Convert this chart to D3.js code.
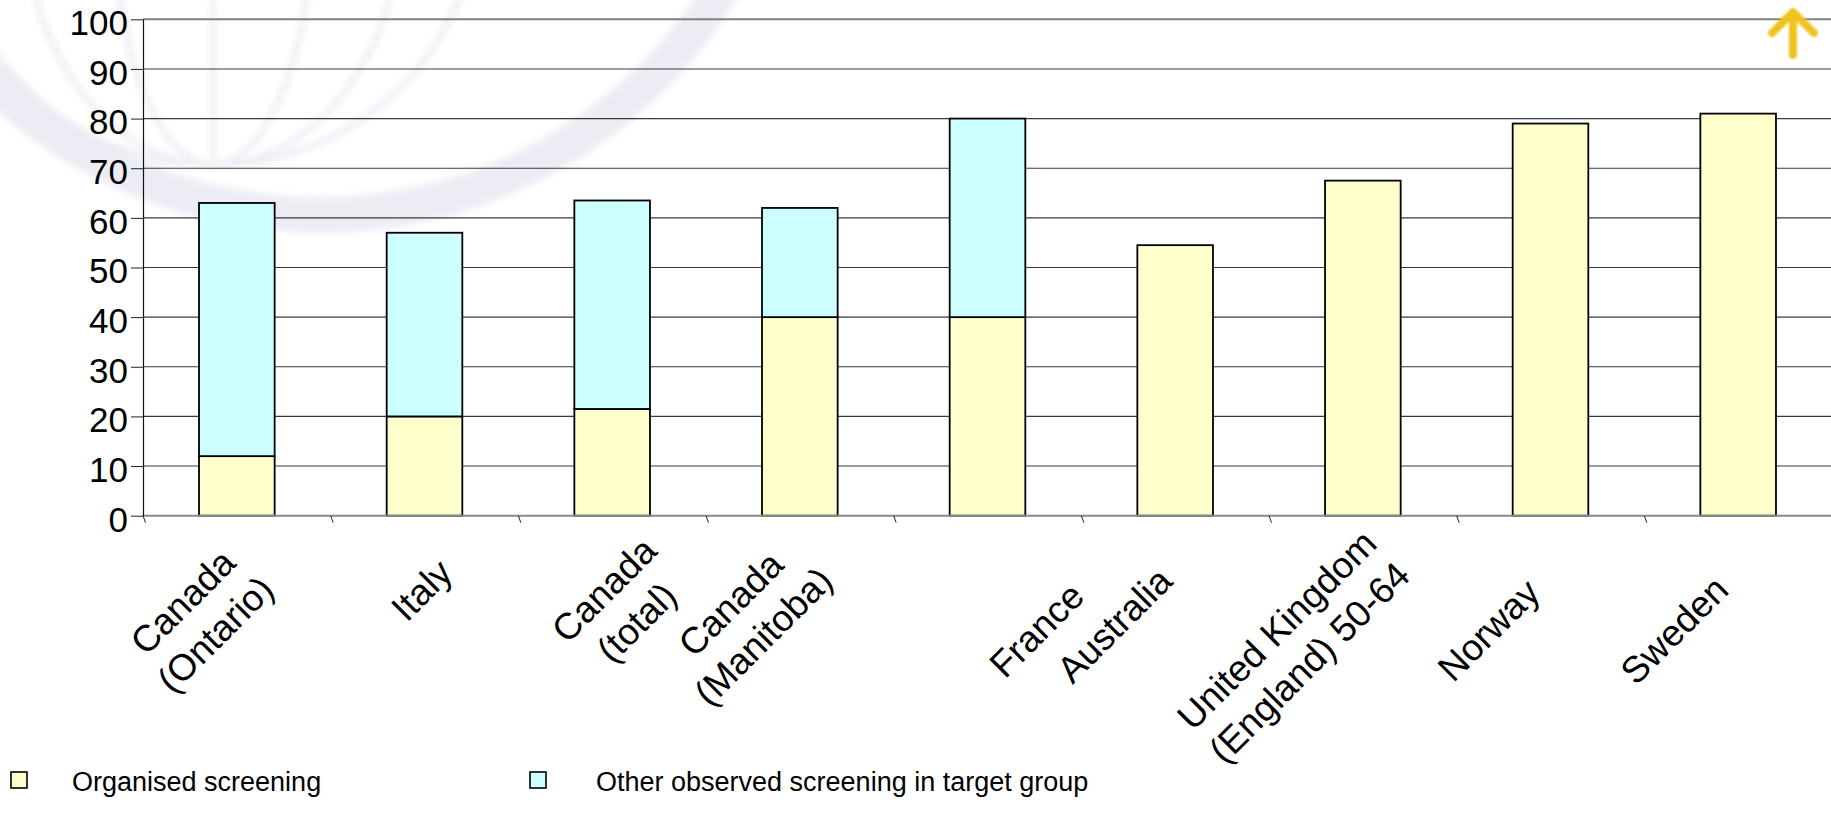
<!DOCTYPE html>
<html>
<head>
<meta charset="utf-8">
<script src="https://cdn.jsdelivr.net/npm/d3@7"></script>
<style>
  html, body { margin: 0; padding: 0; background: #fff; overflow: hidden; }
  svg { display: block; font-family: "Liberation Sans", Arial, Helvetica, sans-serif; }
</style>
</head>
<body>
<svg id="chart" width="1831" height="835"></svg>
<script>
// ---- data ----
const categories = [
  "Canada\n(Ontario)", "Italy", "Canada\n(total)", "Canada\n(Manitoba)",
  "France", "Australia", "United Kingdom\n(England) 50-64", "Norway", "Sweden"
];
const organised     = [12, 20, 21.5, 40, 40, 54.5, 67.5, 79, 81];
const otherObserved = [51, 37, 42,   22, 40, 0,    0,    0,  0];
const seriesNames   = ["Organised screening", "Other observed screening in target group"];
const yTicks        = [0, 10, 20, 30, 40, 50, 60, 70, 80, 90, 100];

// ---- layout ----
const W = 1831, H = 835;
const plot = { left: 143, right: 1832, top: 19.3, bottom: 515.7 };
const colors = ["#FFFFCC", "#CCFFFF"];
// label block centre: horizontal shift from the band centre, and vertical position
const labelPlace = [
  [-38, 618], [-3, 590], [8, 606], [-53, 620], [49, 630],
  [-61, 625], [-70, 646], [-62, 630], [-64, 630]
];

const svg = d3.select("#chart");

// ---- faint globe watermark ----
const wm = svg.append("g").attr("fill", "none").style("filter", "blur(3px)");
wm.append("circle").attr("cx", 320).attr("cy", -255).attr("r", 470)
  .attr("stroke-width", 36).attr("stroke", "#ececf5");
const gc = { x: 213, y: -100 }, gr = 265;
const mer = wm.append("g").attr("stroke", "#ebebf4").attr("stroke-width", 5);
[0.38, 0.72, 1].forEach(k => {
  mer.append("ellipse").attr("cx", gc.x).attr("cy", gc.y)
    .attr("rx", gr * k).attr("ry", gr);
});
mer.append("line").attr("x1", gc.x).attr("x2", gc.x)
  .attr("y1", 0).attr("y2", gc.y + gr);

// ---- scales ----
const x = d3.scaleBand().domain(categories)
  .range([plot.left, plot.right]).paddingInner(0.597).paddingOuter(0.2985);
const y = d3.scaleLinear().domain([0, 100]).range([plot.bottom, plot.top]);

// ---- gridlines ----
svg.append("g").selectAll("line").data(yTicks.filter(t => t > 0)).join("line")
  .attr("x1", plot.left).attr("x2", W)
  .attr("y1", d => y(d)).attr("y2", d => y(d))
  .attr("stroke", d => d === 100 ? "#808080" : "#3a3a3a")
  .attr("stroke-width", d => d === 100 ? 2 : 1.1);

// ---- stacked bars ----
const rows = categories.map((c, i) => ({ cat: c, organised: organised[i], other: otherObserved[i] }));
const stack = d3.stack().keys(["organised", "other"])(rows);
svg.append("g").selectAll("g").data(stack).join("g")
  .attr("fill", (d, i) => colors[i])
  .selectAll("rect").data(d => d.filter(v => v[1] - v[0] > 0)).join("rect")
  .attr("x", d => x(d.data.cat))
  .attr("width", x.bandwidth())
  .attr("y", d => y(d[1]))
  .attr("height", d => y(d[0]) - y(d[1]))
  .attr("stroke", "#000").attr("stroke-width", 1.8);

// ---- baseline ----
svg.append("line").attr("x1", plot.left).attr("x2", W)
  .attr("y1", y(0)).attr("y2", y(0))
  .attr("stroke", "#8a8a8a").attr("stroke-width", 2);

// ---- y axis ----
const yAxis = svg.append("g").attr("transform", `translate(${plot.left},0)`)
  .call(d3.axisLeft(y).tickValues(yTicks).tickSize(12).tickPadding(3).tickSizeOuter(0));
yAxis.select(".domain").attr("stroke", "#111").attr("stroke-width", 1.2);
yAxis.selectAll(".tick line").attr("stroke", "#222");
yAxis.selectAll(".tick text").attr("font-size", 35).attr("fill", "#000")
  .attr("font-family", "'Liberation Sans', Arial, sans-serif").attr("dy", "0.44em");

// ---- category ticks (between bands, slightly slanted) ----
const step = x.step();
const bounds = d3.range(categories.length).map(i => plot.left + i * step);
svg.append("g").selectAll("line").data(bounds).join("line")
  .attr("x1", d => d).attr("x2", d => d + 2.5)
  .attr("y1", y(0)).attr("y2", y(0) + 7)
  .attr("stroke", "#222").attr("stroke-width", 1);

// ---- category labels, rotated ----
const lh = 46;
const lab = svg.append("g").attr("font-size", 37).attr("fill", "#000");
categories.forEach((c, i) => {
  const lines = c.split("\n");
  const cx = x(c) + x.bandwidth() / 2 + labelPlace[i][0];
  const cy = labelPlace[i][1];
  const t = lab.append("text").attr("text-anchor", "middle")
    .attr("transform", `translate(${cx},${cy}) rotate(-45)`);
  lines.forEach((ln, k) => {
    t.append("tspan").attr("x", 0)
      .attr("y", (k - (lines.length - 1) / 2) * lh)
      .attr("dy", "0.35em").text(ln);
  });
});

// ---- legend ----
const legendX = [11, 530], legendTextX = [72, 596];
const lg = svg.append("g");
seriesNames.forEach((name, i) => {
  lg.append("rect").attr("x", legendX[i]).attr("y", 772).attr("width", 16).attr("height", 16)
    .attr("fill", colors[i]).attr("stroke", "#000").attr("stroke-width", 1.6);
  lg.append("text").attr("x", legendTextX[i]).attr("y", 791)
    .attr("font-size", 27).attr("fill", "#000").text(name);
});

// ---- yellow up arrow, top right ----
svg.append("path")
  .attr("d", "M1793,55 L1793,14 M1772,33 L1793,12 L1814,33")
  .attr("fill", "none").attr("stroke", "#EEC31F").attr("stroke-width", 8)
  .attr("stroke-linecap", "round").attr("stroke-linejoin", "round")
  .style("filter", "blur(0.8px)");
</script>
</body>
</html>
